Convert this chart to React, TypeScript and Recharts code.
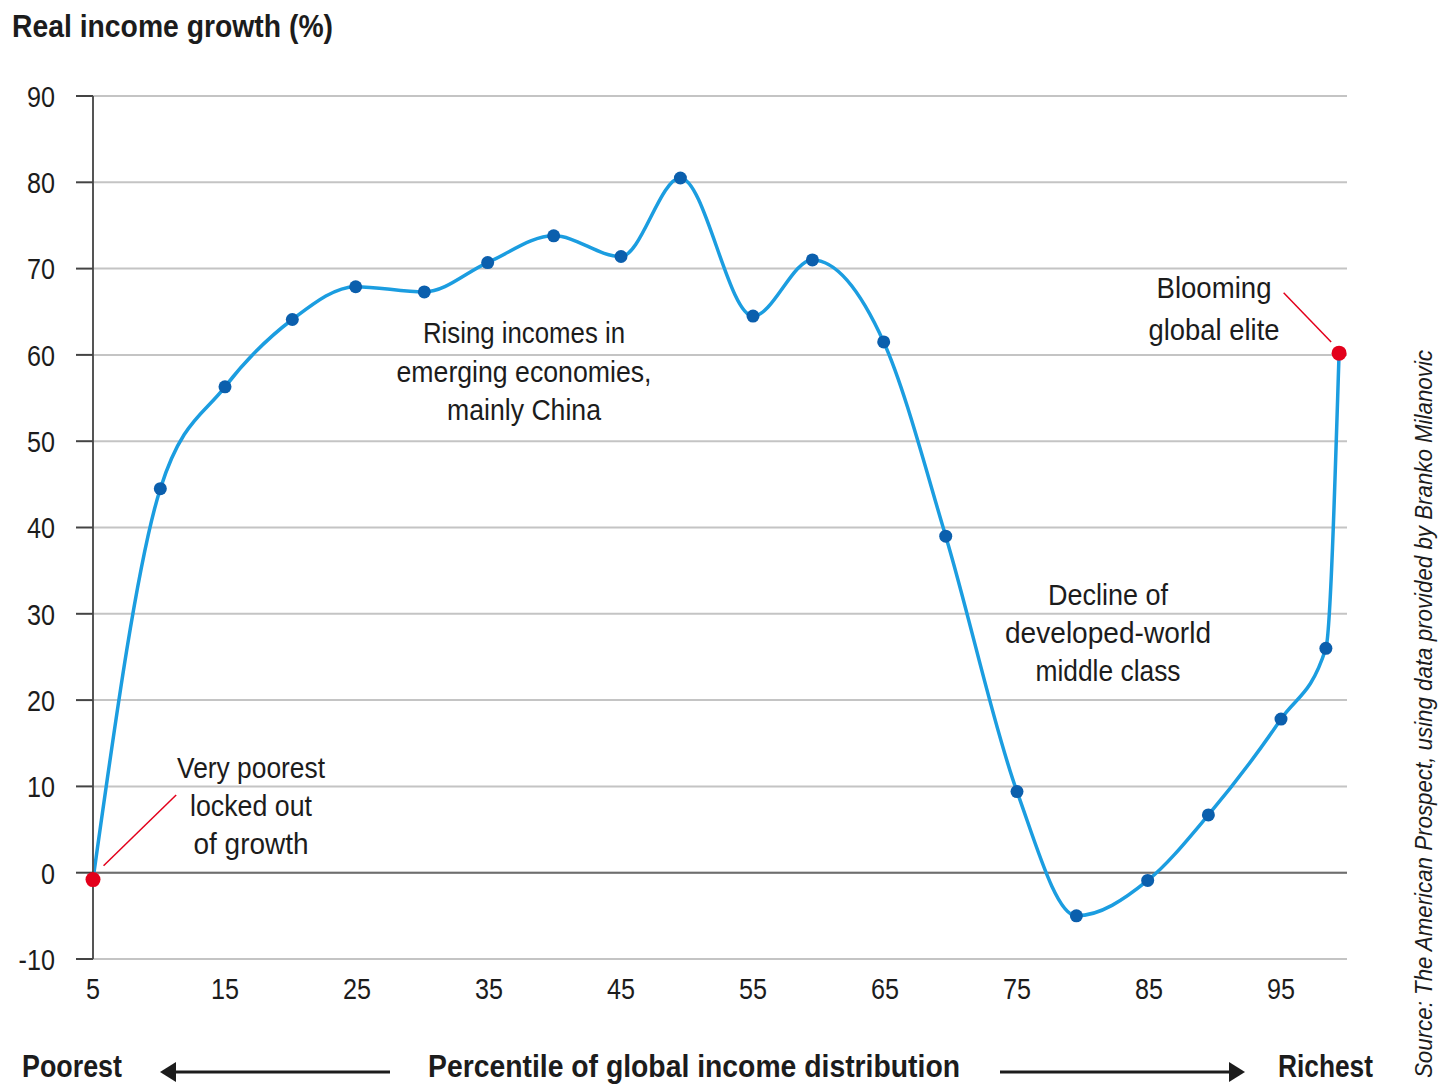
import { LineChart, Line, XAxis, YAxis, CartesianGrid, ReferenceLine } from 'recharts';

// percentile position of each point
const percentiles = [5, 10.1, 15, 20.1, 24.9, 30.1, 34.9, 39.9, 45, 49.5, 55, 59.5, 64.9, 69.6, 75, 79.5, 84.9, 89.5, 95, 98.4, 99.4];
const growth = [-0.8, 44.5, 56.3, 64.1, 67.9, 67.3, 70.7, 73.8, 71.4, 80.5, 64.5, 71.0, 61.5, 39.0, 9.4, -5.0, -0.9, 6.7, 17.8, 26.0, 60.2];

const xTicks = [5, 15, 25, 35, 45, 55, 65, 75, 85, 95];
const yTicks = [-10, 0, 10, 20, 30, 40, 50, 60, 70, 80, 90];

const data = percentiles.map((p, i) => ({ p, g: growth[i] }));

const FONT = "'Liberation Sans', Arial, sans-serif";
const INK = '#1c1c1c';
const RED = '#e3001b';
const NARROW = 0.84;

function Dot(props: any) {
  const { cx, cy, index } = props;
  const edge = index === 0 || index === data.length - 1;
  return (
    <circle
      key={`dot-${index}`}
      cx={cx}
      cy={cy}
      r={edge ? 7.5 : 6.5}
      fill={edge ? RED : '#0b5fad'}
      stroke="none"
    />
  );
}

function YTick(props: any) {
  const { x, y, payload } = props;
  return (
    <text
      transform={`translate(${x} ${y}) scale(${NARROW} 1)`}
      textAnchor="end"
      dy="0.36em"
      fontSize={30}
      fill={INK}
      fontFamily={FONT}
    >
      {payload.value}
    </text>
  );
}

function XTick(props: any) {
  const { x, y, payload } = props;
  return (
    <text
      transform={`translate(${x} ${y}) scale(${NARROW} 1)`}
      textAnchor="middle"
      dy="0.71em"
      fontSize={30}
      fill={INK}
      fontFamily={FONT}
    >
      {payload.value}
    </text>
  );
}

// text squeezed to the measured width, the original uses a condensed face
function T({ x, y, w, size = 30, bold = false, anchor = 'middle', children }: any) {
  return (
    <text
      x={x}
      y={y}
      textLength={w}
      lengthAdjust="spacingAndGlyphs"
      textAnchor={anchor}
      fontSize={size}
      fontWeight={bold ? 'bold' : 'normal'}
      fill={INK}
      fontFamily={FONT}
    >
      {children}
    </text>
  );
}

export default function App() {
  return (
    <div style={{ position: 'absolute', left: 0, top: 0, width: 1443, height: 1087, background: '#fff', fontFamily: FONT }}>
      <LineChart
        width={1443}
        height={1087}
        data={data}
        margin={{ top: 96, right: 96, left: 13, bottom: 88 }}
      >
        <CartesianGrid vertical={false} stroke="#c4c4c4" strokeWidth={2} />
        <XAxis
          dataKey="p"
          type="number"
          domain={[5, 100]}
          ticks={xTicks}
          axisLine={false}
          tickLine={false}
          tickSize={0}
          tickMargin={19}
          height={40}
          tick={XTick}
        />
        <YAxis
          type="number"
          domain={[-10, 90]}
          ticks={yTicks}
          width={80}
          axisLine={{ stroke: '#555', strokeWidth: 2 }}
          tickLine={{ stroke: '#444', strokeWidth: 2 }}
          tickSize={17}
          tickMargin={21}
          tick={YTick}
        />
        <ReferenceLine y={0} stroke="#6e6e6e" strokeWidth={2} />
        <ReferenceLine segment={[{ x: 11.3, y: 9.0 }, { x: 5.8, y: 0.8 }]} stroke={RED} strokeWidth={1.5} />
        <ReferenceLine segment={[{ x: 95.2, y: 67.2 }, { x: 98.8, y: 61.5 }]} stroke={RED} strokeWidth={1.5} />
        <Line
          type="monotone"
          dataKey="g"
          stroke="#1b9de0"
          strokeWidth={3.5}
          dot={Dot}
          activeDot={false}
          isAnimationActive={false}
        />
      </LineChart>

      <svg
        width={1443}
        height={1087}
        style={{ position: 'absolute', left: 0, top: 0, pointerEvents: 'none' }}
      >
        <T x={12} y={37} w={321} size={31} bold anchor="start">Real income growth (%)</T>

        <T x={524} y={343} w={202}>Rising incomes in</T>
        <T x={524} y={382} w={255}>emerging economies,</T>
        <T x={524} y={420} w={154}>mainly China</T>

        <T x={1108} y={605} w={120}>Decline of</T>
        <T x={1108} y={643} w={206}>developed-world</T>
        <T x={1108} y={681} w={145}>middle class</T>

        <T x={251} y={778} w={148}>Very poorest</T>
        <T x={251} y={816} w={122}>locked out</T>
        <T x={251} y={854} w={115}>of growth</T>

        <T x={1214} y={298} w={115}>Blooming</T>
        <T x={1214} y={340} w={131}>global elite</T>

        <T x={22} y={1077} w={100} size={31} bold anchor="start">Poorest</T>
        <line x1={390} y1={1072} x2={172} y2={1072} stroke={INK} strokeWidth={3} />
        <polygon points="160,1072 176,1062 176,1082" fill={INK} />
        <T x={694} y={1077} w={532} size={31} bold>Percentile of global income distribution</T>
        <line x1={1000} y1={1072} x2={1232} y2={1072} stroke={INK} strokeWidth={3} />
        <polygon points="1245,1072 1229,1062 1229,1082" fill={INK} />
        <T x={1373} y={1077} w={95} size={31} bold anchor="end">Richest</T>

        <g transform="rotate(-90 1432 1078)">
          <text
            x={1432}
            y={1078}
            textLength={728}
            lengthAdjust="spacingAndGlyphs"
            fontSize={24}
            fontStyle="italic"
            fill={INK}
            fontFamily={FONT}
          >
            Source: The American Prospect, using data provided by Branko Milanovic
          </text>
        </g>
      </svg>
    </div>
  );
}
